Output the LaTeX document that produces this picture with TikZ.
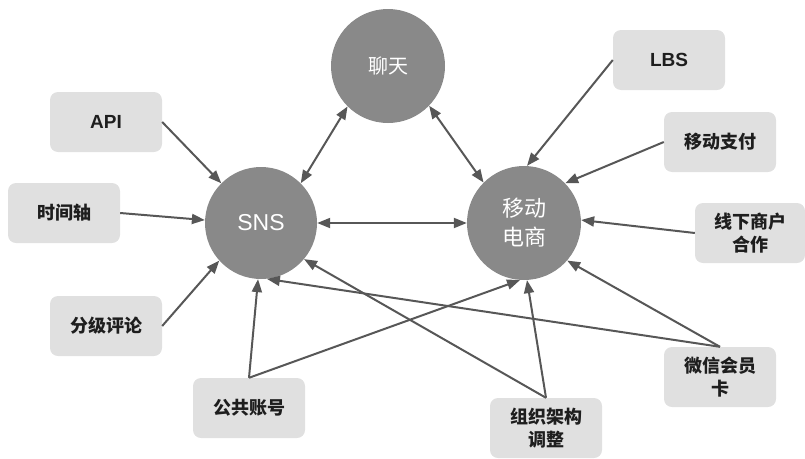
\documentclass[tikz,border=0pt]{standalone}
\usepackage{fontspec}
\setmainfont{Noto Sans CJK SC}
\newfontfamily\cjk{Noto Sans CJK SC}
\newfontfamily\lat{Liberation Sans}
\usetikzlibrary{arrows.meta}
\definecolor{circfill}{HTML}{898989}
\definecolor{boxfill}{HTML}{E0E0E0}
\definecolor{arrcol}{HTML}{575757}
\definecolor{txtcol}{HTML}{1E1E1E}
\tikzset{
  hub/.style={circle, fill=circfill, draw=none, inner sep=0pt, text=white, font=\cjk\fontsize{20}{25}\selectfont, align=center},
  tag/.style={rounded corners=8pt, fill=boxfill, draw=none, minimum width=112pt, minimum height=60pt, inner sep=0pt, text=txtcol, font=\cjk\bfseries\fontsize{18}{23}\selectfont, align=center},
  link/.style={draw=arrcol, line width=2pt, -{Triangle[length=13pt,width=10pt]}},
  dlink/.style={draw=arrcol, line width=2pt, {Triangle[length=13pt,width=10pt]}-{Triangle[length=13pt,width=10pt]}}
}
\begin{document}
\begin{tikzpicture}[x=1pt,y=-1pt]
\useasboundingbox (0,0) rectangle (805,458);
% hubs
\node[hub, minimum size=114pt] (chat) at (388,66) {聊天};
\node[hub, minimum size=112pt, font=\lat\fontsize{23}{28}\selectfont] (sns) at (261,223) {SNS};
\node[hub, minimum size=114pt, font=\cjk\fontsize{22}{29}\selectfont] (mall) at (524,223) {移动\\电商};
% tags
\node[tag, font=\lat\bfseries\fontsize{19}{23}\selectfont] (api) at (106,122) {API};
\node[tag] (time) at (64,213) {时间轴};
\node[tag] (rate) at (106,326) {分级评论};
\node[tag] (pub) at (249,408) {公共账号};
\node[tag] (org) at (546,428) {组织架构\\调整};
\node[tag] (wx) at (720,377) {微信会员\\卡};
\node[tag, font=\lat\bfseries\fontsize{19}{23}\selectfont] (lbs) at (669,60) {LBS};
\node[tag] (pay) at (720,142) {移动支付};
\node[tag, minimum width=110pt] (off) at (750,233) {线下商户\\合作};
% hub links
\draw[dlink] (sns.45) -- (chat.225);
\draw[dlink] (chat.316) -- (mall.135);
\draw[dlink] (sns.0) -- (mall.180);
% SNS inputs
\draw[link] (api.east) -- (sns.135);
\draw[link] (time.east) -- (sns.177);
\draw[link] (rate.east) -- (sns.222);
\draw[link] (pub.north) -- (sns.267);
\draw[link] (wx.north) -- (sns.276);
\draw[link] (org.north) -- (sns.320);
% mall inputs
\draw[link] (pub.north) -- (mall.266);
\draw[link] (org.north) -- (mall.273);
\draw[link] (wx.north) -- (mall.319);
\draw[link] (lbs.west) -- (mall.87);
\draw[link] (pay.west) -- (mall.44);
\draw[link] (off.west) -- (mall.3);
\end{tikzpicture}
\end{document}
